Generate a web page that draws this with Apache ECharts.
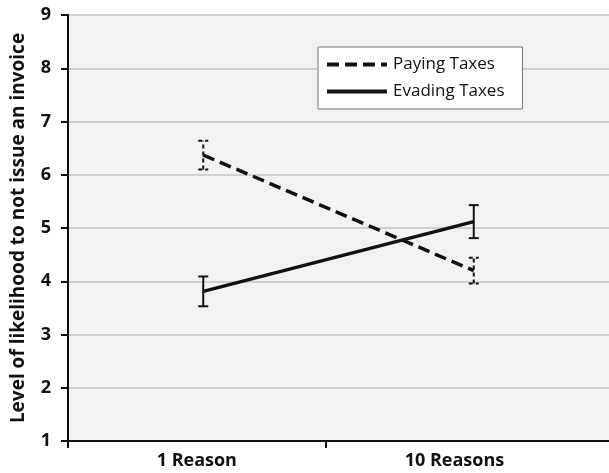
<!DOCTYPE html>
<html><head><meta charset="utf-8">
<script src="https://cdn.jsdelivr.net/npm/echarts@6/dist/echarts.min.js"></script>
<style>html,body{margin:0;padding:0;background:#fff}#c{width:609px;height:473px}</style>
</head><body><div id="c"></div>
<script>
const categories = ['1 Reason', '10 Reasons'];
const payingTaxes = [6.37, 4.20];
const payingErr = [0.27, 0.24];
const evadingTaxes = [3.81, 5.12];
const evadingErr = [0.28, 0.31];
const yTicks = [1, 2, 3, 4, 5, 6, 7, 8, 9];
const yName = 'Level of likelihood to not issue an invoice';

const FONT = 'Open Sans';

function errData(vals, errs) {
  return vals.map((v, i) => [i, v - errs[i], v + errs[i]]);
}
function errSeries(name, vals, errs, dashed) {
  return {
    type: 'custom', name: name + ' err', xAxisIndex: 0, yAxisIndex: 0, z: 3,
    data: errData(vals, errs),
    renderItem: function (params, api) {
      const lo = api.coord([api.value(0), api.value(1)]);
      const hi = api.coord([api.value(0), api.value(2)]);
      const w = 5;
      const style = { stroke: '#111', lineWidth: 2, lineDash: dashed ? [4, 3] : null };
      return { type: 'group', children: [
        { type: 'line', shape: { x1: lo[0], y1: lo[1], x2: hi[0], y2: hi[1] }, style: style },
        { type: 'line', shape: { x1: lo[0] - w, y1: lo[1], x2: lo[0] + w, y2: lo[1] }, style: style },
        { type: 'line', shape: { x1: hi[0] - w, y1: hi[1], x2: hi[0] + w, y2: hi[1] }, style: style }
      ]};
    }
  };
}

const chart = echarts.init(document.getElementById('c'), null, { renderer: 'canvas' });
chart.setOption({
  backgroundColor: '#ffffff',
  animation: false,
  textStyle: { fontFamily: FONT },
  grid: [
    { left: 68, right: 0, top: 15, bottom: 32, show: true, backgroundColor: '#f2f2f2', borderWidth: 0 }
  ],
  legend: {
    orient: 'vertical', left: 318, top: 47,
    backgroundColor: '#ffffff', borderColor: '#777', borderWidth: 1,
    padding: [9, 18, 9, 7], itemGap: 10, itemWidth: 60, itemHeight: 14,
    data: ['Paying Taxes', 'Evading Taxes'],
    itemStyle: { opacity: 0 },
    lineStyle: { width: 4 },
    textStyle: { fontFamily: FONT, fontSize: 17, color: '#111', padding: [0, 0, 0, 1] }
  },
  xAxis: [
    { type: 'category', gridIndex: 0, data: categories, boundaryGap: true,
      axisLine: { lineStyle: { color: '#111', width: 2 } },
      axisTick: { show: false }, axisLabel: { show: false }, splitLine: { show: false } },
    { type: 'value', gridIndex: 0, position: 'bottom', min: 0, max: 2.1,
      axisLine: { show: false },
      axisTick: { show: true, length: 7, customValues: [0, 1], lineStyle: { color: '#111', width: 2 } },
      axisLabel: { show: true, margin: 11, customValues: categories.map((c, i) => i + 0.5),
        fontFamily: FONT, fontSize: 18, fontWeight: 'bold', color: '#111',
        formatter: function (v) { return categories[Math.floor(v)] || ''; } },
      splitLine: { show: false } }
  ],
  yAxis: [
    { type: 'value', gridIndex: 0, min: 1, max: 9, interval: 1,
      name: yName, nameLocation: 'middle', nameGap: 40,
      nameTextStyle: { fontFamily: FONT, fontSize: 19, fontWeight: 'bold', color: '#111' },
      axisLine: { show: true, lineStyle: { color: '#111', width: 2 } },
      axisTick: { show: true, length: 7, lineStyle: { color: '#111', width: 2 } },
      axisLabel: { margin: 17, fontFamily: FONT, fontSize: 18, fontWeight: 'bold', color: '#111',
        formatter: function (v) { return yTicks.indexOf(v) >= 0 ? String(v) : ''; } },
      splitLine: { show: true, lineStyle: { color: '#c4c4c4', width: 1.5 } } }
  ],
  series: [
    { name: 'Paying Taxes', type: 'line', xAxisIndex: 0, yAxisIndex: 0, data: payingTaxes,
      symbol: 'none', color: '#111', z: 4,
      lineStyle: { color: '#111', width: 3.5, type: [12, 6] } },
    { name: 'Evading Taxes', type: 'line', xAxisIndex: 0, yAxisIndex: 0, data: evadingTaxes,
      symbol: 'none', color: '#111', z: 4,
      lineStyle: { color: '#111', width: 3.5 } },
    errSeries('Paying Taxes', payingTaxes, payingErr, true),
    errSeries('Evading Taxes', evadingTaxes, evadingErr, false)
  ]
});
</script></body></html>
